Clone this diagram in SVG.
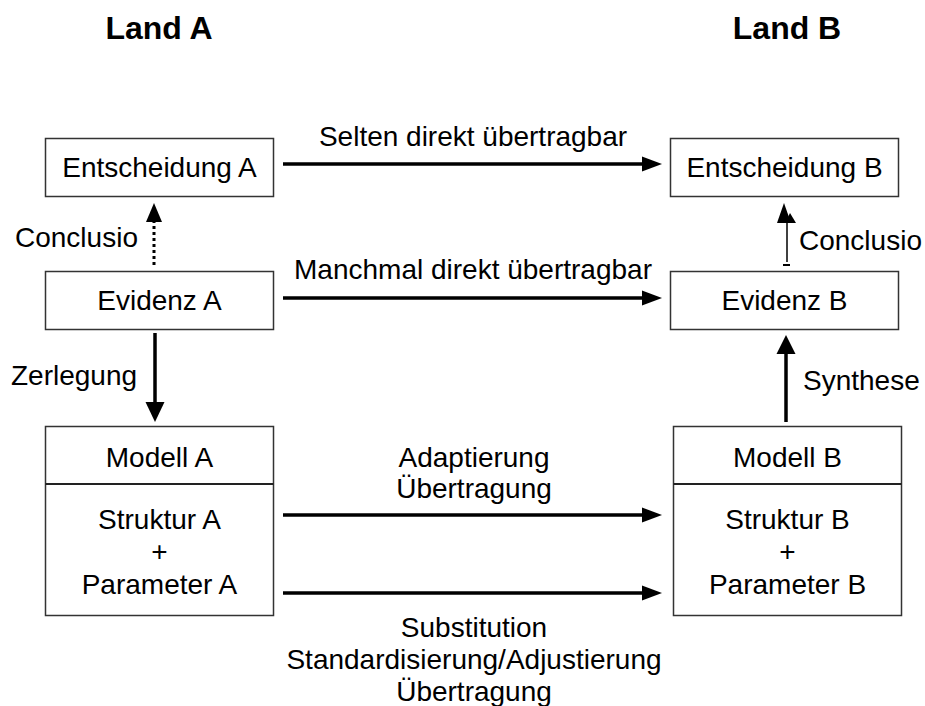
<svg xmlns="http://www.w3.org/2000/svg" width="925" height="706" viewBox="0 0 925 706">
  <style>
    text { font-family: "Liberation Sans", Arial, sans-serif; font-size: 28px; fill: #000; }
    .title { font-weight: bold; font-size: 32px; }
    .mid { text-anchor: middle; }
    .box { fill: #fff; stroke: #333; stroke-width: 1.5; }
    .flow { stroke: #000; stroke-width: 3.5; fill: none; }
    .head { fill: #000; }
  </style>

  <!-- column headings -->
  <text class="title mid" x="159" y="39">Land A</text>
  <text class="title mid" x="787" y="39">Land B</text>

  <!-- nodes, country A -->
  <g id="entscheidung-a">
    <rect class="box" x="45.5" y="138.5" width="228" height="58"/>
    <text class="mid" x="159.5" y="177">Entscheidung A</text>
  </g>
  <g id="evidenz-a">
    <rect class="box" x="45.5" y="271.5" width="228" height="58"/>
    <text class="mid" x="159.5" y="310">Evidenz A</text>
  </g>
  <g id="modell-a">
    <rect class="box" x="45.5" y="426.5" width="228" height="189"/>
    <line x1="45.5" y1="484" x2="273.5" y2="484" stroke="#222" stroke-width="2"/>
    <text class="mid" x="159.5" y="467">Modell A</text>
    <text class="mid" x="159.5" y="529">Struktur A</text>
    <text class="mid" x="159.5" y="561">+</text>
    <text class="mid" x="159.5" y="594">Parameter A</text>
  </g>

  <!-- nodes, country B -->
  <g id="entscheidung-b">
    <rect class="box" x="670.5" y="138.5" width="228" height="58"/>
    <text class="mid" x="784.5" y="177">Entscheidung B</text>
  </g>
  <g id="evidenz-b">
    <rect class="box" x="670.5" y="271.5" width="228" height="58"/>
    <text class="mid" x="784.5" y="310">Evidenz B</text>
  </g>
  <g id="modell-b">
    <rect class="box" x="673.5" y="426.5" width="228" height="189"/>
    <line x1="673.5" y1="484" x2="901.5" y2="484" stroke="#222" stroke-width="2"/>
    <text class="mid" x="787.5" y="467">Modell B</text>
    <text class="mid" x="787.5" y="529">Struktur B</text>
    <text class="mid" x="787.5" y="561">+</text>
    <text class="mid" x="787.5" y="594">Parameter B</text>
  </g>

  <!-- connectors -->
  <g id="connectors">
    <!-- Entscheidung A -> Entscheidung B -->
    <line class="flow" x1="283" y1="164" x2="643" y2="164"/>
    <polygon class="head" points="662,164 642,156.5 642,171.5"/>
    <text class="mid" x="473" y="146">Selten direkt übertragbar</text>

    <!-- Evidenz A -> Evidenz B -->
    <line class="flow" x1="283" y1="298" x2="643" y2="298"/>
    <polygon class="head" points="662,298 642,290.5 642,305.5"/>
    <text class="mid" x="473" y="279">Manchmal direkt übertragbar</text>

    <!-- Struktur A -> Struktur B -->
    <line class="flow" x1="283" y1="515" x2="643" y2="515"/>
    <polygon class="head" points="662,515 642,507.5 642,522.5"/>
    <text class="mid" x="474" y="467">Adaptierung</text>
    <text class="mid" x="474" y="498">Übertragung</text>

    <!-- Parameter A -> Parameter B -->
    <line class="flow" x1="283" y1="593" x2="643" y2="593"/>
    <polygon class="head" points="662,593 642,585.5 642,600.5"/>
    <text class="mid" x="474" y="637">Substitution</text>
    <text class="mid" x="474" y="669">Standardisierung/Adjustierung</text>
    <text class="mid" x="474" y="701">Übertragung</text>

    <!-- Evidenz A -> Entscheidung A (dotted) -->
    <line x1="154" y1="265" x2="154" y2="222" stroke="#000" stroke-width="3" stroke-dasharray="3 3"/>
    <polygon class="head" points="154,203 146,222 162,222"/>
    <text x="15" y="247">Conclusio</text>

    <!-- Evidenz A -> Modell A -->
    <line class="flow" x1="155" y1="333" x2="155" y2="405"/>
    <polygon class="head" points="155,422 145.5,402 164.5,402"/>
    <text x="11" y="385">Zerlegung</text>

    <!-- Modell B -> Evidenz B -->
    <line class="flow" x1="786" y1="422" x2="786" y2="352"/>
    <polygon class="head" points="786,335 776.5,354 795.5,354"/>
    <text x="803" y="390">Synthese</text>

    <!-- Evidenz B -> Entscheidung B -->
    <line x1="787" y1="262" x2="787" y2="222" stroke="#000" stroke-width="1.5"/>
    <polygon class="head" points="784,203 777,223 791,223"/>
    <polygon class="head" points="790,213 785,223 796,223"/>
    <rect x="783" y="264" width="7" height="2" fill="#000"/>
    <text x="799" y="250">Conclusio</text>
  </g>
</svg>
